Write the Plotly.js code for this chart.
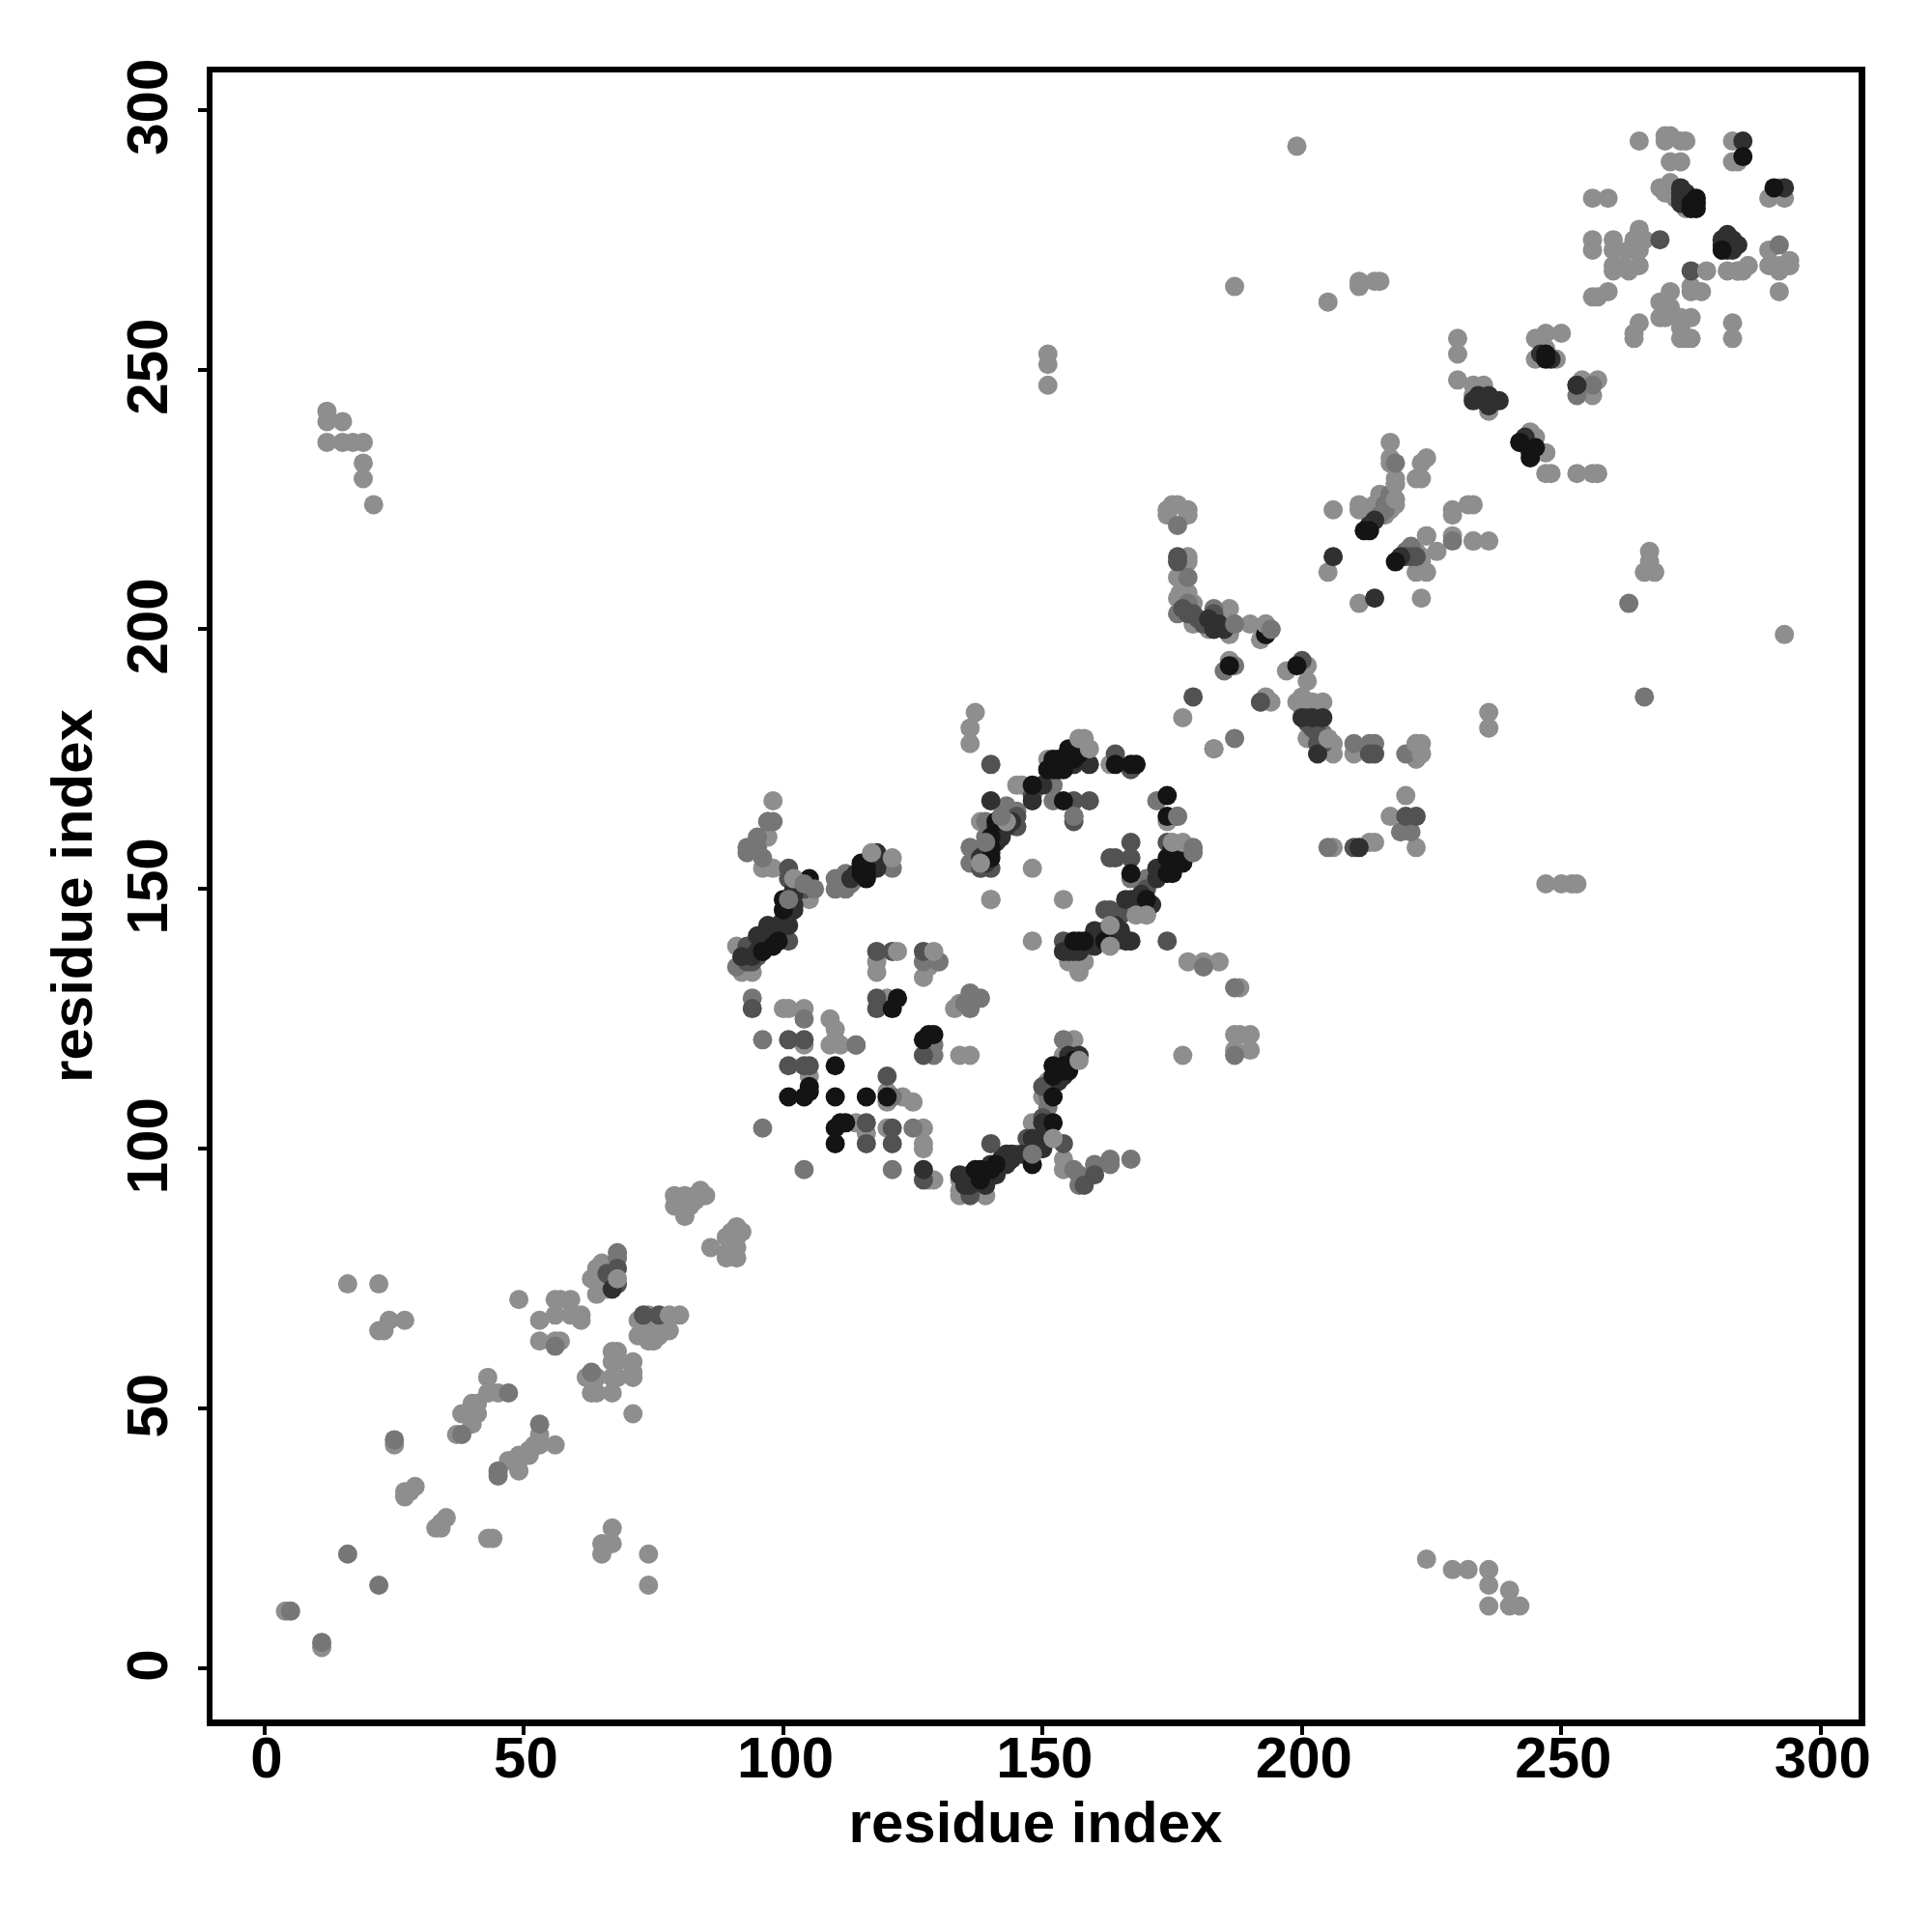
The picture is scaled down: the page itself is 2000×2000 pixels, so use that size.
<!DOCTYPE html>
<html><head><meta charset="utf-8">
<script src="https://cdn.plot.ly/plotly-3.0.1.min.js"></script>
<style>html,body{margin:0;padding:0;background:#fff}</style></head>
<body><div id="chart" style="width:2000px;height:2000px"></div>
<script>
const tickValues=[0,50,100,150,200,250,300];
const axisLabel="residue index";
// contact pairs [residue i, residue j] grouped by shade, drawn in this order
const lightContacts=[[11,4],[4,11],[25,43],[29,35],[27,34],[28,34],[27,33],[33,27],[34,27],[35,29],[34,28],[43,25],[44,25],[74,22],[74,16],[67,27],[67,24],[65,24],[65,22],[49,38],[47,40],[49,41],[49,40],[51,41],[53,45],[53,43],[56,43],[52,43],[51,42],[37,45],[38,49],[40,47],[40,49],[41,49],[40,51],[41,51],[43,56],[43,53],[45,53],[71,49],[63,53],[64,53],[67,53],[62,56],[64,56],[67,56],[68,56],[68,61],[67,61],[68,59],[67,59],[71,59],[71,56],[71,57],[49,71],[56,71],[57,71],[59,71],[53,67],[56,68],[59,68],[61,68],[61,67],[53,63],[56,63],[57,63],[27,67],[24,67],[22,65],[23,65],[16,74],[22,74],
[65,78],[64,77],[63,75],[64,72],[65,76],[66,76],[65,74],[66,73],[72,64],[74,63],[75,63],[76,64],[78,65],[77,66],[75,65],[76,67],[74,68],[73,66],[72,67],
[84,92],[85,91],[83,90],[79,91],[79,89],[81,91],[81,87],[82,89],[83,91],[80,90],[91,85],[92,84],[90,84],[89,83],[86,81],[89,79],[91,79],[91,81],[89,80],[91,83],
[98,167],[97,163],[97,160],[96,154],[98,154],[105,148],[101,145],[94,134],[92,134],[91,139],[118,136],[118,134],[128,135],[127,133],[100,127],[101,127],[104,127],[109,125],[110,123],[109,120],[110,121],[104,120],[105,114],[120,129],[133,127],[134,128],[134,118],[136,118],[140,148],
[120,111],[123,110],[125,109],[120,109],[114,105],[116,103],[120,104],[127,104],[127,101],[127,100],[128,94],[129,94],[134,94],[134,92],[134,91],[139,91],[145,99],
[154,98],[154,96],[148,105],[150,110],[151,113],[154,118],[156,121],[177,118],[187,122],[188,122],[190,122],[187,119],[190,119],
[136,178],[136,181],[183,177],[137,184],[145,170],[146,170],[138,163],[143,163],[148,154],[140,148],[154,148],[148,140],[174,163],[168,145],[170,145],[158,136],[155,136],[157,134],[157,136],[178,136],[181,136],[184,136],[188,131],[151,175],[163,174],
[174,223],[175,224],[176,224],[178,223],[174,222],[178,222],[178,214],[178,213],[176,210],[176,206],[176.5,207],[178,207],[177,205],[179,205],[179,201],[182,200],[186,204],[186,199],[187,201],[190,201],[193,201],[192,198],[186,194],[177,183],[183,177],[192,186],[193,187],[194,186],[201,193],[197,192],[201,190],[199,186],[200,187],[202,186],[204,186],[200,185],[201,179],[203,179],[205,179],[206,178],[206,176],[210,176],[222,178],[223,178],[222,175],[223,176],
[206,223],[205,211],[211,205],[223,206],[217,236],[217,233],[217,232],[218,229],[218,228],[218,225],[218,224],[215,226],[214,224],[216,222],[217,223],[211,224],[211,223],[213,222],[224,233],[223,232],[222,229],[223,229],[229,223],[229,222],[232,224],[233,224],[224,218],[229,218],[233,217],[236,217],[226,215],[222,215],[223,214],[222,211],[224,211],[223,213],[244,238],[245,237],[245,234],[247,234],[248,230],[247,230],[253,230],[256,230],[257,230],
[12,242],[12,240],[15,240],[12,236],[15,236],[17,236],[19,236],[19,232],[19,229],[21,224],[224,21],[229,19],[232,19],[236,19],[236,16],[236,12],[240,15],[240,12],[242,12],
[199,293],[293,199],[187,266],[205,263],[211,266],[211,267],[214,267],[215,267],[151,253],[151,251],[151,247],[247,151],[250,151],[252,151],[253,151],[267,215],[267,213],[266,211],[268,211],[236,184],[236,181],
[230,256],[230,253],[230,248],[233,247],[235,247],[233,245],[236,242],[245,256],[250,257],[245,252],[249,252],[206,158],[213,159],[214,159],[220,168],[217,164],[222,158],
[265,294],[271,295],[270,295],[270,294],[273,294],[274,294],[271,290],[273,290],[283,294],[283,290],[284,290],[290,283],[293,283],[292,285],[256,283],[259,283],[269,285],[271,286],[270,284],[274,281],[272,283],
[256,275],[256,273],[260,275],[260,273],[260,270],[260,269],[265,277],[264,275],[266,275],[263,269],[265,270],[263,273],[262,270],[265,273],[275,266],[277,265],[275,265],[271,265],[269,263],[269,260],[271,262],[270,260],[273,260],[275,260],[273,258],[273,256],[275,256],[274,256],[265,259],[264,257],[264,256],[283,259],[283,256],[256,264],[257,264],[259,265],[286,270],[282,269],[284,269],[285,269],[290,273],[290,270],[291,270],[292,269],[294,270],[292,270],[292,265],[294,271],[254,248],[257,248],[256,245],[247,257],[247,254]];
const midContacts=[[11,5],[5,11],[25,44],[38,45],[53,47],[47,53],[45,38],[45,37],[16,22],[22,16],[63,57],[56,62],[68,80],[68,79],[96,121],[104,96],[96,104],[121,96],[97,163],[98,163],[95,160],[93,158],[93,157],[95,158],[96,156],[110,152],[110,150],[112,153],[111,151],[112,150],[113,151],[114,152],[121,154],[91,135],[94,129],[104,125],[127,136],[130,136],[138,129],[136,127],[135,128],[136,130],[129,120],[129,118],
[121,110],[125,104],[154,121],[157,95],[156,96],[160,97],[163,98],[163,97],[167,98],[157,93],[152,170],[152,167],[143,166],[139,163],[145,165],[139,160],[139,158],[136,158],[136,155],[176,164],[172,167],[167,152],[170,152],[164,140],[181,135],[176,220],[178,210],[176,203],[187,193],[185,192],[183,204],[187,179],[187,131],[187,118],[220,176],[213,178],[214,178],[210,178],[218,232],[229,217],[263,205],[266,187],[205,158],[221,161],[219,161],[253,245],[256,247],[253,247],[292,274],[281,275],[151,110],[151,108],[215,222],[216,223],[216,224],[217,226],[220,215],[221,216],[178,205],[204,180],[203,181]];
const dim1Contacts=[[101,154],[102,152],[101,152],[104,150],[101,140],[94,136],[93,139],[118,138],[121,138],[127,138],[94,127],[118,129],[118,127],[127,118],[101,121],[104,121],[114,120],[101,116],[104,116],[105,116],[120,114],[116,105],[121,104],[116,101],[121,101],[127,94],[136,92],[136,91],[140,101],[147,102],[154,101],[150,112],[150,106],[158,93],[160,95],[140,174],[148,168],[145,162],[145,164],[156,167],[159,167],[156,164],[156,163],[140,154],[138,154],[167,159],[167,156],[164,156],[163,156],[170,150],[165,145],[162,146],[163,146],[154,140],[174,140],[164,176],[167,173],[176,214],[176,213],[179,187],[183,203],[194,200],[200,194],[213,176],[214,176],[210,158],[275,269],[269,275],[220,164],[222,164],[66,76],[174,159],[192,186],[73,68],[76,68],[68,77],[68,74],[177,204],[178,203],[179,203],[180,202],[181,201],[201,183],[201,182],[202,181],[203,180],[204,178],[203,178],[220,214],[221,214],[222,214],[95,137],[93,136]];
const dim2Contacts=[[118,157],[118,156],[118,154],[102,150],[102,149],[102,147],[102,146],[101,143],[97,143],[99,142],[95,141],[92,137],[127,96],[134,95],[136,94],[136,93],[139,94],[140,97],[141,95],[142,98],[143,99],[144,99],[143,97],[139,93],[148,102],[150,102],[150,105],[151,104],[150,100],[153,114],[155,118],[157,118],[140,167],[148,167],[142,161],[138,156],[151,173],[156,174],[159,174],[153,174],[150,170],[160,142],[165,142],[166,148],[167,148],[166,140],[167,140],[160,139],[158,139],[154,138],[156,138],[157,138],[183,200],[185,200],[206,214],[214,206],[204,183],[200,183],[202,183],[203,176],[193,199],[219,214],[213,220],[214,221],[285,294],[293,285],[273,285],[273,283],[282,276],[284,274],[283,273],[253,247],[236,244],[238,244],[242,236],[67,73],[211,158],[172,152],[173,154],
[94,137],[95,138],[96,139],[97,140],[98,141],[96,140],[97,141],[98,142],[99,143],[100,144],[139,155],[139,156],[140,157],[139,157],[141,159],[142,160],[143,162],[144,163],[141,162],[157,175],[155,174],[172,154],[174,155],[175,156],[176,157],[177,157],[177,156],[173,153],[155,138],[159,140],[161,141],[162,142],[163,142],[164,143],[168,148],[169,149],[171,147],[170,147],[135,93],[136,95],[137,94],[138,95],[139,96],[141,96],[142,97],[143,98],[144,98],[146,99],[113,152],[114,153],[117,155],[117,154],[153,115],[153,113],[154,114],[182,202],[183,201],[184,201],[233,244],[234,245],[235,244],[236,243],[237,244],[236,245],[243,237],[244,235],[246,253],[248,252],[273,284],[274,284],[275,283],[274,282],[273,282],[281,275],[282,275],[283,275],[282,274],[283,274],[281,274],[282,273]];
const blackContacts=[[105,152],[100,148],[100,146],[99,140],[96,138],[110,116],[121,127],[122,129],[127,121],[129,122],[128,122],[101,110],[104,110],[105,112],[105,111],[110,110],[116,110],[120,110],[110,104],[111,105],[112,105],[110,101],[115,155],[115,153],[116,152],[137,96],[138,96],[148,97],[152,105],[152,116],[152,114],[155,115],[154,116],[152,110],[151,173],[152,175],[155,177],[154,173],[156,175],[157,176],[164,174],[167,174],[168,174],[174,168],[174,164],[148,170],[154,167],[141,163],[140,160],[140,158],[140,156],[167,153],[170,148],[162,140],[156,140],[177,155],[175,158],[174,156],[176,156],[175,153],[193,199],[199,193],[186,193],[212,219],[213,219],[218,213],[244,233],[247,252],[285,291],[291,285],[276,283],[276,282],[281,273],[242,236],[98,139],[152,173],[153,175],[154,175],[155,176],[156,176],[153,173],[156,177],[174,153],[175,154],[176,155],[158,140],[157,140],[116,153],[116,154],[115,154],[138,94],[140,96],[141,97],[154,115],[155,116],[156,117],[275,282],[275,281],[276,281],[245,235],[244,234],[247,253]];
const lightTopContacts=[[68,75],[78,68],[80,68],[122,138],[129,138],[121,156],[117,157],[102,152],[157,179],[158,179],[159,177],[177,159],[175,159],[163,143],[163,139],[170,145],[168,145],[205,179],[223,176],[222,178],[193,201],[218,225],[218,228],[224,218],[233,217],[111,120],[152,102],[157,117],[278,269],[286,270],[284,269],[294,270],[262,270],[143,163],[138,155]];
const midTopContacts=[[179,158],[179,157],[101,148],[148,99],[106,150],[114,120],[187,201],[194,200],[156,164],[176,164],[142,164],[139,159],[104,151]];

const shades=[
 [lightContacts,"#8e8e8e"],[midContacts,"#767676"],[dim1Contacts,"#525252"],
 [dim2Contacts,"#303030"],[blackContacts,"#141414"],[lightTopContacts,"#8e8e8e"],[midTopContacts,"#767676"]];
const traces=shades.map(([pts,col])=>({type:"scatter",mode:"markers",
  x:pts.map(p=>p[0]),y:pts.map(p=>p[1]),
  marker:{size:20,color:col,line:{width:0}},hoverinfo:"skip",showlegend:false}));
const tickFont={family:"Liberation Sans",size:60,color:"#000",weight:700};
const titleFont={family:"Liberation Sans",size:60,color:"#000",weight:700};
const common={showgrid:false,zeroline:false,showline:true,mirror:true,linecolor:"#000",linewidth:6.5,
  ticks:"outside",ticklen:9,tickwidth:4,tickcolor:"#000",tickmode:"array",tickvals:tickValues,ticktext:tickValues.map(String),
  tickfont:tickFont};
const layout={width:2000,height:2000,paper_bgcolor:"#fff",plot_bgcolor:"#fff",showlegend:false,
  margin:{l:220,r:76,t:75,b:220,pad:0},
  xaxis:Object.assign({},common,{range:[-10.06,307.3],ticklabelstandoff:-28,ticklabelshift:2,title:{text:axisLabel,font:titleFont,standoff:4}}),
  yaxis:Object.assign({},common,{range:[-9.85,307.2],tickangle:-90,ticklabelstandoff:8,ticklabelshift:6,title:{text:axisLabel,font:titleFont,standoff:6}})};
Plotly.newPlot("chart",traces,layout,{staticPlot:true,displayModeBar:false});
</script></body></html>
